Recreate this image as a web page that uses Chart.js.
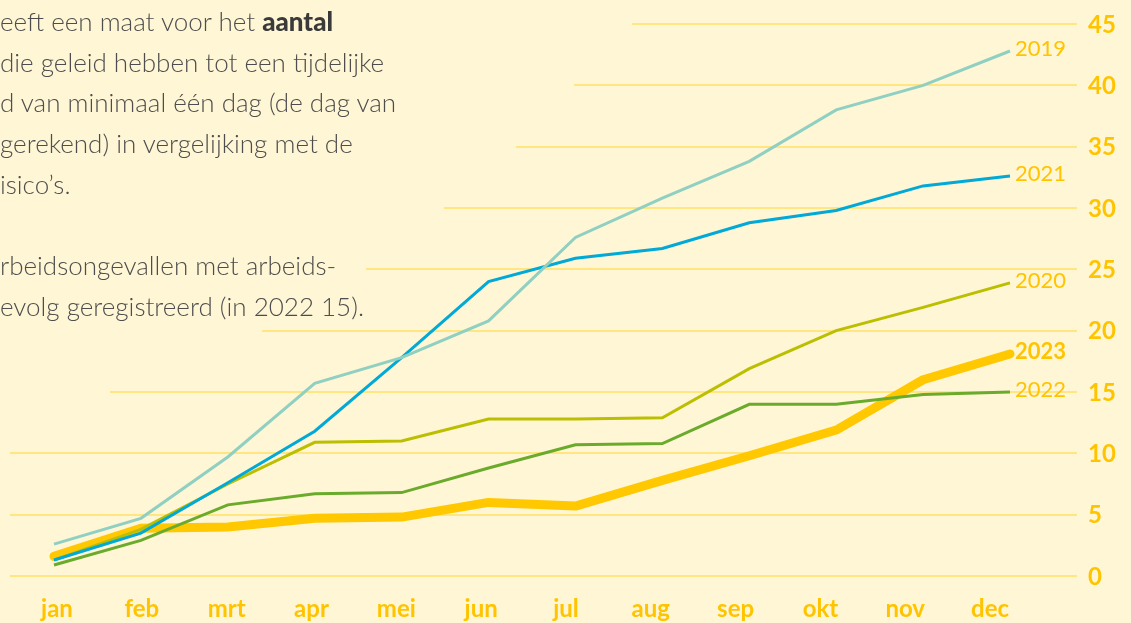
<!DOCTYPE html>
<html>
<head>
<meta charset="utf-8">
<script src="https://cdn.jsdelivr.net/npm/chart.js@4"></script>
<style>
	html, body { margin: 0; padding: 0; background: #fff6d5; }
	#wrap { position: relative; width: 1131px; height: 623px; overflow: hidden; }
	#chart { position: absolute; left: 0; top: 0; }
	.intro { position: absolute; left: 0; top: 1px; font-family: Lato, sans-serif; font-weight: 300; font-size: 26px; color: #4d4d4d; line-height: 40.7px; white-space: pre; }
	.intro b { font-weight: 900; color: #3a3a3a; }
</style>
</head>
<body>
<div id="wrap">
	<canvas id="chart" width="1131" height="623"></canvas>
	<div class="intro">eeft een maat voor het <b>aantal</b>
die geleid hebben tot een tijdelijke
d van minimaal één dag (de dag van
gerekend) in vergelijking met de
isico’s.

rbeidsongevallen met arbeids-
evolg geregistreerd (in 2022 15).</div>
</div>
<script>
// months and cumulative counts per year
const months = ['jan', 'feb', 'mrt', 'apr', 'mei', 'jun', 'jul', 'aug', 'sep', 'okt', 'nov', 'dec'];
const yTicks = [0, 5, 10, 15, 20, 25, 30, 35, 40, 45];

const y2019 = [2.6, 4.7, 9.7, 15.7, 17.8, 20.8, 27.6, 30.8, 33.8, 38.0, 40.0, 42.8];
const y2020 = [1.3, 3.8, 7.5, 10.9, 11.0, 12.8, 12.8, 12.9, 16.9, 20.0, 21.9, 23.9];
const y2021 = [1.3, 3.5, 7.6, 11.8, 17.8, 24.0, 25.9, 26.7, 28.8, 29.8, 31.8, 32.6];
const y2022 = [0.9, 2.9, 5.8, 6.7, 6.8, 8.8, 10.7, 10.8, 14.0, 14.0, 14.8, 15.0];
const y2023 = [1.6, 3.9, 4.0, 4.7, 4.8, 6.0, 5.7, 7.8, 9.8, 11.9, 16.0, 18.1];

// where each gridline starts (the text block cuts them off)
const gridStart = [10, 10, 10, 110, 262, 366, 444, 516, 574, 632];

const yellow = '#ffc400';

const drawDecor = {
	id: 'drawDecor',
	beforeDatasetsDraw(chart) {
		const ctx = chart.ctx;
		const y = chart.scales.y;
		ctx.save();
		ctx.strokeStyle = '#ffe680';
		ctx.lineWidth = 2;
		yTicks.forEach((t, i) => {
			const py = Math.round(y.getPixelForValue(t));
			ctx.beginPath();
			ctx.moveTo(gridStart[i], py);
			ctx.lineTo(1077, py);
			ctx.stroke();
		});
		ctx.fillStyle = yellow;
		ctx.font = 'bold 24px Lato';
		ctx.textBaseline = 'middle';
		ctx.textAlign = 'left';
		yTicks.forEach(t => {
			ctx.fillText(String(t), 1088, y.getPixelForValue(t) + 1);
		});
		const x = chart.scales.x;
		const left = chart.chartArea.left;
		ctx.textAlign = 'center';
		months.forEach((m, i) => {
			const px = x.getPixelForValue(i);
			ctx.fillText(m, left + 3 + (px - left) * 0.976, 609);
		});
		ctx.restore();
	},
	afterDatasetsDraw(chart) {
		const ctx = chart.ctx;
		ctx.save();
		ctx.fillStyle = yellow;
		ctx.textBaseline = 'middle';
		ctx.textAlign = 'left';
		chart.data.datasets.forEach((ds, i) => {
			const meta = chart.getDatasetMeta(i);
			const last = meta.data[meta.data.length - 1];
			ctx.font = (ds.label === '2023' ? 'bold ' : '') + '22px Lato';
			ctx.fillText(ds.label, last.x + 5, last.y - 2);
		});
		ctx.restore();
	}
};

new Chart(document.getElementById('chart'), {
	type: 'line',
	data: {
		labels: months,
		datasets: [
			{ label: '2019', data: y2019, borderColor: '#8fd0c2', borderWidth: 3 },
			{ label: '2021', data: y2021, borderColor: '#00a9d6', borderWidth: 3 },
			{ label: '2020', data: y2020, borderColor: '#bcbe00', borderWidth: 3 },
			{ label: '2022', data: y2022, borderColor: '#6aab2c', borderWidth: 3 },
			{ label: '2023', data: y2023, borderColor: '#ffc800', borderWidth: 9, borderCapStyle: 'round', borderJoinStyle: 'round' }
		]
	},
	options: {
		responsive: false,
		animation: false,
		layout: { padding: { left: 54, right: 121, top: 24, bottom: 47 } },
		elements: { point: { radius: 0 }, line: { tension: 0 } },
		datasets: { line: { clip: false } },
		plugins: { legend: { display: false }, tooltip: { enabled: false } },
		scales: {
			x: { display: false },
			y: { display: false, min: 0, max: 45 }
		}
	},
	plugins: [drawDecor]
});
</script>
</body>
</html>
